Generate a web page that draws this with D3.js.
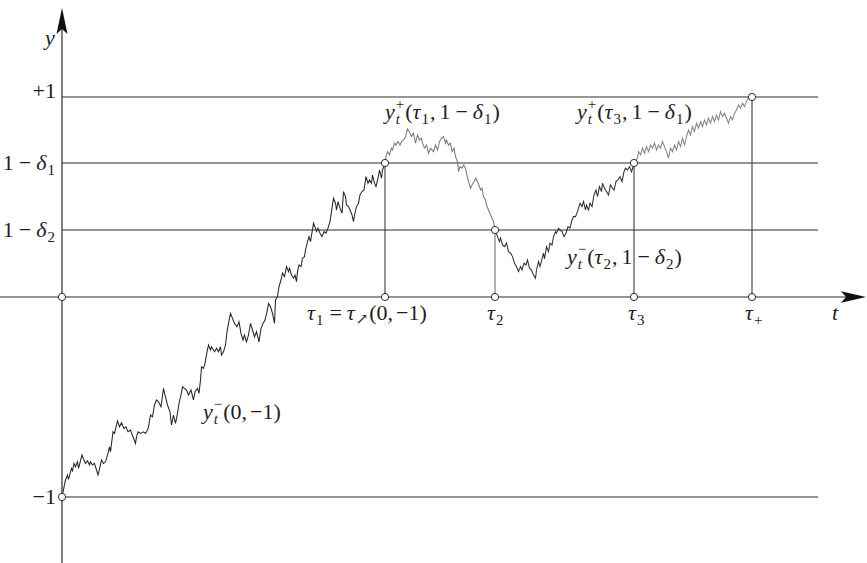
<!DOCTYPE html>
<html><head><meta charset="utf-8">
<script src="https://cdn.jsdelivr.net/npm/d3@7"></script>
<style>html,body{margin:0;padding:0;background:#fff;}</style>
</head><body>
<svg id="chart" width="867" height="563"></svg>
<script>
// ---------- data ----------
const tauNames = ["tau1", "tau2", "tau3", "tauPlus"];
const tauValues = [0.646, 0.866, 1.144, 1.380];
const levelNames = ["plus1", "oneMinusDelta1", "oneMinusDelta2", "minus1"];
const levelValues = [1, 0.67, 0.335, -1];

const walkT = [
0,0.007,0.011,0.013,0.019,0.021,0.024,0.027,0.031,0.033,0.040,0.044,0.047,0.051,0.055,0.057,0.061,0.065,0.072,0.076,
0.079,0.083,0.087,0.092,0.095,0.097,0.102,0.105,0.111,0.115,0.119,0.124,0.128,0.132,0.137,0.142,0.147,0.149,0.152,0.157,
0.163,0.167,0.171,0.173,0.177,0.181,0.185,0.189,0.193,0.198,0.203,0.206,0.211,0.216,0.219,0.223,0.227,0.231,0.234,0.238,
0.241,0.245,0.249,0.253,0.258,0.263,0.266,0.271,0.274,0.277,0.279,0.283,0.286,0.290,0.293,0.297,0.299,0.305,0.309,0.313,
0.317,0.319,0.323,0.327,0.330,0.333,0.337,0.341,0.345,0.350,0.354,0.358,0.362,0.365,0.369,0.373,0.377,0.381,0.385,0.389,
0.394,0.398,0.402,0.406,0.410,0.413,0.417,0.421,0.425,0.427,0.431,0.434,0.438,0.441,0.445,0.449,0.453,0.455,0.459,0.463,
0.466,0.469,0.471,0.474,0.478,0.481,0.485,0.487,0.491,0.494,0.497,0.503,0.507,0.509,0.512,0.516,0.520,0.524,0.528,0.532,
0.536,0.540,0.543,0.547,0.549,0.552,0.556,0.560,0.563,0.567,0.569,0.573,0.576,0.580,0.583,0.585,0.589,0.593,0.596,0.600,
0.604,0.608,0.612,0.615,0.619,0.621,0.625,0.628,0.632,0.635,0.639,0.641,0.646,
0.648,0.651,0.655,0.659,0.661,0.665,0.668,0.672,0.676,0.679,0.683,0.687,0.691,0.695,0.699,0.703,0.707,0.711,0.715,0.719,
0.721,0.725,0.729,0.733,0.737,0.743,0.747,0.751,0.755,0.759,0.763,0.767,0.769,0.773,0.777,0.780,0.784,0.787,0.791,0.793,
0.796,0.800,0.803,0.807,0.809,0.813,0.817,0.820,0.824,0.828,0.835,0.837,0.840,0.843,0.847,0.849,0.853,0.857,0.860,0.863,0.866,
0.871,0.875,0.877,0.881,0.885,0.889,0.893,0.897,0.901,0.905,0.909,0.913,0.917,0.920,0.924,0.928,0.931,0.935,0.939,0.943,
0.947,0.949,0.953,0.956,0.963,0.965,0.969,0.973,0.976,0.980,0.983,0.987,0.989,0.993,0.996,1.000,1.004,1.008,1.012,1.016,
1.020,1.023,1.027,1.031,1.033,1.036,1.040,1.043,1.047,1.049,1.053,1.056,1.060,1.064,1.068,1.071,1.075,1.079,1.081,1.085,
1.089,1.093,1.097,1.101,1.104,1.108,1.112,1.116,1.120,1.124,1.127,1.131,1.135,1.139,1.142,1.144,
1.151,1.153,1.157,1.161,1.165,1.169,1.173,1.177,1.181,1.185,1.189,1.193,1.197,1.201,1.205,1.209,1.213,1.217,1.221,1.225,
1.229,1.233,1.237,1.241,1.245,1.249,1.253,1.257,1.261,1.265,1.269,1.273,1.277,1.281,1.285,1.289,1.293,1.297,1.301,1.305,
1.309,1.313,1.317,1.321,1.325,1.329,1.333,1.337,1.341,1.345,1.349,1.353,1.357,1.361,1.365,1.369,1.373,1.380
];
const walkY = [
-1,-0.915,-0.890,-0.912,-0.857,-0.869,-0.832,-0.849,-0.824,-0.857,-0.790,-0.815,-0.832,-0.819,-0.840,-0.824,-0.840,-0.832,-0.890,-0.849,
-0.815,-0.832,-0.824,-0.782,-0.749,-0.774,-0.674,-0.682,-0.619,-0.649,-0.629,-0.657,-0.649,-0.674,-0.665,-0.699,-0.732,-0.699,-0.674,-0.682,
-0.674,-0.682,-0.665,-0.649,-0.590,-0.599,-0.540,-0.515,-0.524,-0.549,-0.457,-0.490,-0.540,-0.574,-0.640,-0.590,-0.632,-0.582,-0.532,-0.490,
-0.449,-0.457,-0.465,-0.490,-0.465,-0.515,-0.474,-0.457,-0.482,-0.415,-0.349,-0.357,-0.332,-0.274,-0.240,-0.265,-0.249,-0.274,-0.257,-0.274,
-0.249,-0.290,-0.274,-0.240,-0.174,-0.132,-0.082,-0.107,-0.132,-0.149,-0.124,-0.182,-0.215,-0.190,-0.224,-0.190,-0.132,-0.165,-0.199,-0.174,
-0.224,-0.157,-0.132,-0.115,-0.074,-0.032,-0.049,-0.082,-0.132,-0.015,0.002,0.052,0.085,0.119,0.102,0.152,0.127,0.144,0.110,0.094,
0.110,0.077,0.127,0.160,0.152,0.194,0.202,0.235,0.277,0.302,0.277,0.369,0.344,0.327,0.344,0.319,0.302,0.327,0.319,0.344,
0.377,0.444,0.494,0.469,0.435,0.477,0.444,0.419,0.527,0.502,0.460,0.452,0.435,0.410,0.377,0.410,0.452,0.469,0.510,0.527,
0.535,0.602,0.569,0.585,0.569,0.610,0.569,0.552,0.594,0.635,0.594,0.635,0.670,
0.702,0.727,0.710,0.744,0.735,0.769,0.760,0.777,0.760,0.777,0.785,0.800,0.840,0.825,0.802,0.819,0.769,0.810,0.785,0.794,
0.769,0.744,0.760,0.719,0.744,0.727,0.760,0.735,0.777,0.794,0.802,0.769,0.785,0.760,0.769,0.727,0.744,0.702,0.677,0.627,
0.652,0.644,0.660,0.644,0.619,0.577,0.544,0.560,0.577,0.594,0.552,0.535,0.544,0.502,0.485,0.460,0.435,0.410,0.394,0.377,0.335,
0.302,0.277,0.294,0.260,0.252,0.269,0.227,0.219,0.202,0.169,0.152,0.127,0.152,0.135,0.169,0.160,0.185,0.144,0.135,0.110,
0.094,0.135,0.177,0.152,0.219,0.190,0.252,0.227,0.269,0.260,0.302,0.327,0.319,0.344,0.335,0.327,0.302,0.319,0.352,0.344,
0.385,0.402,0.402,0.427,0.444,0.469,0.452,0.477,0.435,0.460,0.435,0.469,0.452,0.510,0.535,0.502,0.552,0.527,0.569,0.544,
0.527,0.510,0.560,0.544,0.535,0.577,0.585,0.602,0.577,0.627,0.644,0.635,0.652,0.627,0.650,0.670,
0.694,0.727,0.710,0.744,0.719,0.752,0.727,0.760,0.744,0.769,0.735,0.760,0.744,0.777,0.752,0.727,0.694,0.744,0.727,0.760,
0.735,0.777,0.752,0.794,0.760,0.802,0.835,0.810,0.852,0.827,0.869,0.844,0.877,0.852,0.885,0.860,0.894,0.869,0.902,0.877,
0.910,0.885,0.927,0.902,0.919,0.894,0.869,0.902,0.885,0.919,0.935,0.960,0.944,0.969,0.952,0.977,0.994,1.000
];

// ---------- scales ----------
const svg = d3.select("#chart");
const x = d3.scaleLinear().domain([0, tauValues[3]]).range([62, 752]);
const y = d3.scaleLinear().domain([-1, 1]).range([497, 97]);
const tLineEnd = 1.512;
const ink = "#2b2b2b";
const FONT = "'Liberation Serif', 'DejaVu Serif', serif";

const pts = walkT.map((t, i) => [t, walkY[i]]);
const bounds = [0].concat(tauValues);
const segColors = ["#262626", "#7a7a7a", "#303030", "#858585"];
const line = d3.line().x(d => x(d[0])).y(d => y(d[1]));

// horizontal level lines
svg.selectAll("line.level").data(levelValues).join("line")
  .attr("x1", x(0)).attr("x2", x(tLineEnd))
  .attr("y1", d => y(d)).attr("y2", d => y(d))
  .attr("stroke", ink).attr("stroke-width", 1);

// x axis
svg.append("line").attr("x1", 0).attr("x2", 850).attr("y1", y(0)).attr("y2", y(0))
  .attr("stroke", ink).attr("stroke-width", 1.2);
svg.append("path").attr("d", `M866,${y(0)} L841,${y(0)-5.8} L846,${y(0)} L841,${y(0)+5.8} Z`).attr("fill", "#111");
// y axis
svg.append("line").attr("x1", x(0)).attr("x2", x(0)).attr("y1", 563).attr("y2", 25)
  .attr("stroke", ink).attr("stroke-width", 1.2);
svg.append("path").attr("d", `M${x(0)},8 L${x(0)-5.5},34 L${x(0)},29 L${x(0)+5.5},34 Z`).attr("fill", "#111");

// vertical tau lines
const tauLevel = [levelValues[1], levelValues[2], levelValues[1], levelValues[0]];
svg.selectAll("line.tau").data(tauValues).join("line")
  .attr("x1", d => x(d)).attr("x2", d => x(d))
  .attr("y1", y(0)).attr("y2", (d, i) => y(tauLevel[i]))
  .attr("stroke", (d, i) => i === 1 ? "#666" : ink).attr("stroke-width", 1);

// walk segments
for (let k = 0; k < 4; k++) {
  const seg = pts.filter(p => p[0] >= bounds[k] - 1e-9 && p[0] <= bounds[k + 1] + 1e-9);
  svg.append("path").attr("d", line(seg)).attr("fill", "none")
    .attr("stroke", segColors[k]).attr("stroke-width", 1.05).attr("stroke-linejoin", "miter");
}

// open circles
const circ = [[0, 0], [0, -1]].concat(tauValues.map(t => [t, 0]))
  .concat(tauValues.map((t, i) => [t, tauLevel[i]]));
svg.selectAll("circle").data(circ).join("circle")
  .attr("cx", d => x(d[0])).attr("cy", d => y(d[1])).attr("r", 3.6)
  .attr("fill", "#fff").attr("stroke", ink).attr("stroke-width", 1);

// ---------- math labels ----------
const FS = 22, SS = 15;
function txt(g, px, py, size, italic, s) {
  return g.append("text").attr("x", px).attr("y", py)
    .attr("font-family", FONT).attr("font-size", size)
    .attr("font-style", italic ? "italic" : "normal").attr("fill", "#1e1e1e").text(s);
}
function mathLabel(px, py, tokens, anchor) {
  const g = svg.append("g");
  let cx = 0;
  tokens.forEach(tk => {
    if (tk.gap !== undefined) { cx += tk.gap; return; }
    if (tk.sub !== undefined || tk.sup !== undefined) {
      let w = 0;
      if (tk.sub !== undefined) {
        const e = txt(g, cx, tk.subDy !== undefined ? tk.subDy : 5, SS, !!tk.subIt, tk.sub);
        w = Math.max(w, e.node().getComputedTextLength());
      }
      if (tk.sup !== undefined) {
        const e = txt(g, cx, -10, SS, false, tk.sup);
        w = Math.max(w, e.node().getComputedTextLength());
      }
      cx += w + 1; return;
    }
    const e = txt(g, cx, 0, FS, tk.it, tk.s);
    cx += e.node().getComputedTextLength() + (tk.it ? 1 : 0);
  });
  const off = anchor === "end" ? -cx : anchor === "middle" ? -cx / 2 : 0;
  g.attr("transform", `translate(${px + off},${py})`);
}
const I = s => ({ s, it: true }), R = s => ({ s, it: false }), G = n => ({ gap: n });
const minus = [G(5), R("\u2212"), G(5)];

// y tick labels
const yTickLabels = [
  [R("+1")],
  [R("1")].concat(minus, [I("\u03b4"), { sub: "1" }]),
  [R("1")].concat(minus, [I("\u03b4"), { sub: "2" }]),
  [R("\u22121")]
];
const yTickDy = [1, 7, 7, 7];
levelValues.forEach((v, i) => mathLabel(56, y(v) + yTickDy[i], yTickLabels[i], "end"));

// x tick labels
const xTickLabels = [
  [I("\u03c4"), { sub: "1" }, G(5), R("="), G(5), I("\u03c4"), { sub: "\u2197", subDy: 4 }, R("(0,"), G(3), R("\u22121)")],
  [I("\u03c4"), { sub: "2" }],
  [I("\u03c4"), { sub: "3" }],
  [I("\u03c4"), { sub: "+" }]
];
const xTickShift = [-78, -8, -6, -7];
tauValues.forEach((t, i) => mathLabel(x(t) + xTickShift[i], y(0) + 23, xTickLabels[i], "start"));

// axis names
mathLabel(832, y(0) + 23, [I("t")], "start");
mathLabel(45, 45, [I("y")], "start");

// curve labels
const yPlus = [I("y"), { sub: "t", subIt: true, sup: "+" }];
const yMinus = [I("y"), { sub: "t", subIt: true, sup: "\u2212" }];
const curveLabels = [
  { t: tauValues[0], v: 0.89, toks: yPlus.concat([R("("), I("\u03c4"), { sub: "1" }, R(","), G(4), R("1")], minus, [I("\u03b4"), { sub: "1" }, R(")")]) },
  { t: 1.030, v: 0.89, toks: yPlus.concat([R("("), I("\u03c4"), { sub: "3" }, R(","), G(4), R("1")], minus, [I("\u03b4"), { sub: "1" }, R(")")]) },
  { t: 1.010, v: 0.165, toks: yMinus.concat([R("("), I("\u03c4"), { sub: "2" }, R(","), G(4), R("1")], minus, [I("\u03b4"), { sub: "2" }, R(")")]) },
  { t: 0.282, v: -0.61, toks: yMinus.concat([R("(0,"), G(3), R("\u22121)")]) }
];
curveLabels.forEach(c => mathLabel(x(c.t), y(c.v), c.toks, "start"));
</script>
</body></html>
